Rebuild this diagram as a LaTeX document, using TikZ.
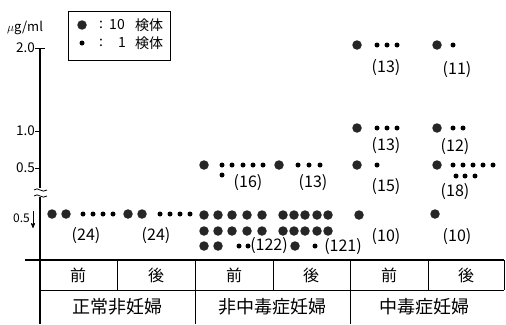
\documentclass[tikz,border=0pt]{standalone}
\usepackage{fontspec}
\setmainfont{Noto Sans CJK JP}
\usetikzlibrary{arrows,positioning}

\begin{document}
\begin{tikzpicture}[x=1pt,y=-1pt,>=stealth',inner sep=0pt]

  \tikzstyle{tenmark}=[circle,fill=black!85,minimum size=9.5pt]
  \tikzstyle{onemark}=[circle,fill=black,minimum size=5pt]
  \tikzstyle{count}=[font=\fontsize{16}{16}\selectfont]
  \tikzstyle{cell}=[font=\fontsize{16}{16}\selectfont]
  \tikzstyle{group}=[font=\fontsize{18}{18}\selectfont]
  \tikzstyle{ticklabel}=[font=\fontsize{13.5}{13.5}\selectfont,anchor=east]
  \tikzstyle{keytext}=[font=\fontsize{14}{14}\selectfont]
  \tikzstyle{rule}=[line width=1.4pt]

\useasboundingbox (0,0) rectangle (506,324);

% axis with break
\coordinate (top) at (40,48);
\coordinate (brkA) at (40,188);
\coordinate (brkB) at (40,197);
\coordinate (foot) at (40,324);
\draw[rule] (top) -- (brkA);
\draw[rule] (brkB) -- (foot);
\draw[thick] (34,190) .. controls (38,186) and (42,194) .. (47,190);
\draw[thick] (34,196) .. controls (38,192) and (42,200) .. (47,196);
\draw (35,48) -- (45,48);
\draw (35,131) -- (40,131);
\draw (35,168) -- (40,168);

\node[ticklabel] (v20) at (35,48) {2.0};
\node[ticklabel] (v10) at (35,131) {1.0};
\node[ticklabel] (v05) at (35,168) {0.5};
\node[ticklabel,font=\fontsize{12}{12}\selectfont] (v05b) at (30,218) {0.5};
\coordinate (arrA) at (33,211);
\coordinate (arrB) at (33,228);
\draw[->,thick] (arrA) -- (arrB);
\node[font=\fontsize{13}{13}\selectfont] (unit) at (25,28) {$\mu$g/ml};

% legend
\node[draw,thick,minimum width=102pt,minimum height=49pt] (legend) at (119,35.5) {};
\node[tenmark] (kbig) at (82,25) {};
\node[onemark] (ksmall) at (82,43) {};
\node[keytext] (kc1) at (101,25) {:};
\node[keytext] (kc2) at (101,43) {:};
\node[keytext] (kn1) at (117,25) {10};
\node[keytext] (kn2) at (122,43) {1};
\node[keytext] (kt1) at (149,25) {検体};
\node[keytext] (kt2) at (149,43) {検体};

% table
\coordinate (hl) at (25,260);
\coordinate (hr) at (504,260);
\coordinate (ml) at (40,290);
\coordinate (mr) at (504,290);
\draw[rule] (hl) -- (hr);
\draw[thick] (ml) -- (mr);
\foreach \x in {117,273,428,504} \draw[thick] (\x,260) -- (\x,290);
\foreach \x in {195,350} \draw[thick] (\x,260) -- (\x,324);

\path (78,275) node[cell] (h1) {前}
      ++(78,0) node[cell] (h2) {後}
      ++(78,0) node[cell] (h3) {前}
      ++(77,0) node[cell] (h4) {後}
      ++(78,0) node[cell] (h5) {前}
      ++(77,0) node[cell] (h6) {後};
\node[group] (grpA) at (117,307) {正常非妊婦};
\node[group] (grpB) at (272,307) {非中毒症妊婦};
\node[group] (grpC) at (424,307) {中毒症妊婦};

% normal non-pregnant
\foreach \x/\n in {52/a,66/b,128/c,142/d} \node[tenmark] (n\n) at (\x,214) {};
\foreach \x/\n in {83/a,93/b,103/c,113/d,160/e,170/f,180/g,190/h} \node[onemark] (m\n) at (\x,214) {};
\node[count] (c1) at (86,236) {(24)};
\node[count] (c2) at (156,236) {(24)};

% non-toxaemic pregnant
\node[tenmark] (p1) at (204,165) {};
\foreach \x/\n in {222/a,232/b,243/c,253/d,263/e} \node[onemark] (q\n) at (\x,165) {};
\node[onemark] (qf) at (222,175) {};
\node[count] (c3) at (248,183) {(16)};
\node[tenmark] (p2) at (279,165) {};
\foreach \x/\n in {298/a,309/b,320/c} \node[onemark] (r\n) at (\x,165) {};
\node[count] (c4) at (313,183) {(13)};

\foreach \y/\r in {215/a,231/b} {
  \foreach \x/\n in {204/1,218/2,232/3,247/4,262/5} \node[tenmark] (s\r\n) at (\x,\y) {};
  \foreach \x/\n in {283/1,294/2,305/3,317/4,328/5} \node[tenmark] (t\r\n) at (\x,\y) {};
}
\node[tenmark] (sc1) at (204,246) {};
\node[tenmark] (sc2) at (218,246) {};
\node[onemark] (sd1) at (239,246) {};
\node[onemark] (sd2) at (248,246) {};
\node[count] (c5) at (269,246) {(122)};
\node[tenmark] (tc1) at (295,246) {};
\node[onemark] (td1) at (315,246) {};
\node[count] (c6) at (343,247) {(121)};

% toxaemic pregnant
\foreach \y/\r in {45/a,128/b} {
  \node[tenmark] (u\r) at (357,\y) {};
  \foreach \x/\n in {377/1,387/2,397/3} \node[onemark] (v\r\n) at (\x,\y) {};
}
\node[count] (c7) at (386,68) {(13)};
\node[count] (c8) at (386,146) {(13)};
\node[tenmark] (uc) at (357,165) {};
\node[onemark] (vc1) at (377,165) {};
\node[count] (c9) at (386,187) {(15)};
\node[tenmark] (ud) at (359,215) {};
\node[count] (c10) at (386,237) {(10)};

\node[tenmark] (wa) at (437,45) {};
\node[onemark] (xa1) at (453,45) {};
\node[count] (c11) at (457,70) {(11)};
\node[tenmark] (wb) at (437,128) {};
\node[onemark] (xb1) at (453,128) {};
\node[onemark] (xb2) at (463,128) {};
\node[count] (c12) at (455,147) {(12)};
\node[tenmark] (wc) at (437,165) {};
\foreach \x/\n in {453/1,463/2,473/3,483/4,493/5} \node[onemark] (xc\n) at (\x,165) {};
\foreach \x/\n in {456/6,465/7,475/8} \node[onemark] (xc\n) at (\x,176) {};
\node[count] (c13) at (455,192) {(18)};
\node[tenmark] (wd) at (435,214) {};
\node[count] (c14) at (457,237) {(10)};

\end{tikzpicture}
\end{document}
